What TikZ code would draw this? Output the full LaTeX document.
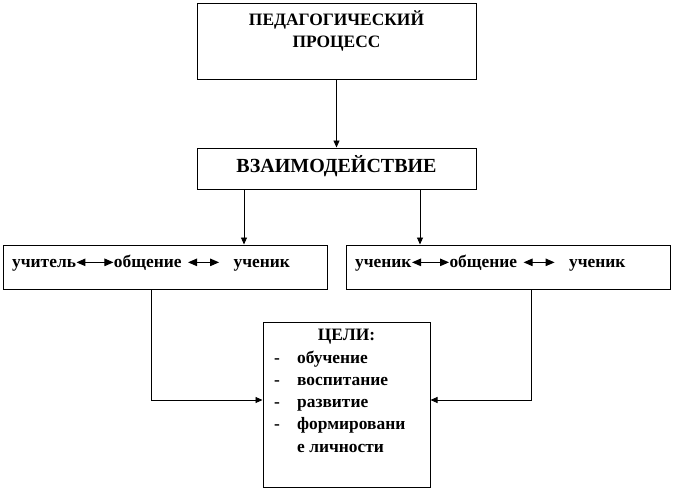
\documentclass[tikz,border=0pt]{standalone}
\usepackage{fontspec}
\setmainfont{Liberation Serif}
\usetikzlibrary{arrows.meta}
\newcommand{\biarr}[1]{\tikz[baseline=-5pt]\draw[line width=1pt,{Triangle[length=9pt,width=7.5pt]}-{Triangle[length=9pt,width=7.5pt]}] (0pt,0pt) -- (#1,0pt);}
\begin{document}
\begin{tikzpicture}[x=1pt,y=-1pt,
  box/.style={draw, line width=1pt, inner sep=0pt, rectangle},
  txt/.style={inner sep=0pt, font=\fontsize{17.4}{22}\selectfont\bfseries},
  arr/.style={line width=0.9pt, -{Triangle[length=7pt,width=6pt]}}]
\useasboundingbox (0,0) rectangle (674,490);
\node[box, minimum width=279pt, minimum height=76pt] (p) at (336.5,41) {};
\node[box, minimum width=279pt, minimum height=41pt] (v) at (336.5,168.5) {};
\node[box, minimum width=324pt, minimum height=44pt] (l) at (165,267) {};
\node[box, minimum width=324pt, minimum height=44pt] (r) at (508,267) {};
\node[box, minimum width=167pt, minimum height=165pt] (g) at (346.5,404.5) {};
\node[txt, align=center] (pt) at (336.5,31) {ПЕДАГОГИЧЕСКИЙ\\ПРОЦЕСС};
\node[txt, font=\fontsize{20}{22}\selectfont\bfseries] (vt) at (336.5,166) {ВЗАИМОДЕЙСТВИЕ};
\node[txt, anchor=west] (lt) at (12,263) {учитель\biarr{37pt}общение\hspace{6pt}\biarr{31pt}\hspace{14pt}ученик};
\node[txt, anchor=west] (rt) at (355,263) {ученик\biarr{37pt}общение\hspace{6pt}\biarr{31pt}\hspace{14pt}ученик};
\node[txt] (gt) at (346.5,337) {ЦЕЛИ:};
\node[txt, anchor=west, align=left, font=\fontsize{17.4}{22.3}\selectfont\bfseries] (gl) at (274,401.5)
  {\makebox[23pt][l]{-}обучение\\\makebox[23pt][l]{-}воспитание\\\makebox[23pt][l]{-}развитие\\\makebox[23pt][l]{-}формировани\\\makebox[23pt][l]{}е личности};
\coordinate (c1) at (244,0);
\coordinate (c2) at (420,0);
\coordinate (c3) at (151,400);
\coordinate (c4) at (531,400);
\draw[arr] (p.south) -- (v.north);
\draw[arr] (c1 |- v.south) -- (c1 |- l.north);
\draw[arr] (c2 |- v.south) -- (c2 |- r.north);
\draw[arr] (c3 |- l.south) -- (c3) -- (g.west |- c3);
\draw[arr] (c4 |- r.south) -- (c4) -- (g.east |- c4);
\end{tikzpicture}
\end{document}
